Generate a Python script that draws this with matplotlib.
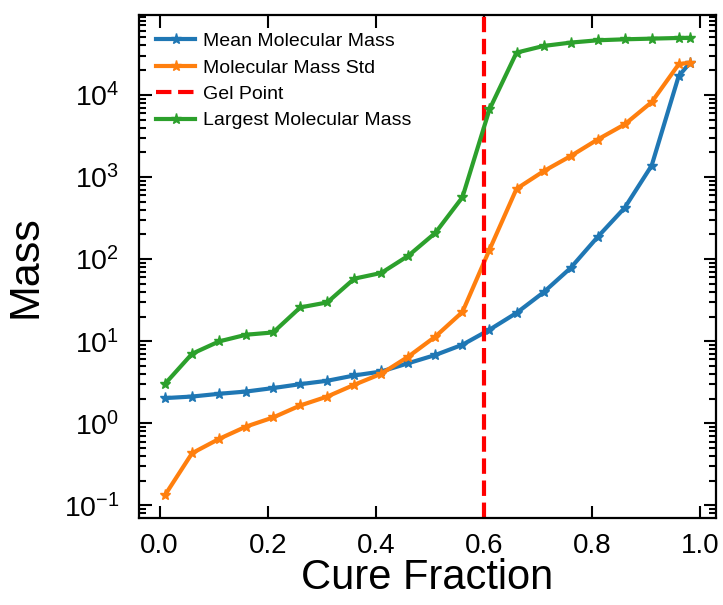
import matplotlib
matplotlib.use("Agg")
import matplotlib.pyplot as plt
from matplotlib.ticker import NullFormatter, FixedLocator

plt.rcParams['font.family'] = ['Liberation Sans', 'DejaVu Sans']
plt.rcParams['mathtext.fontset'] = 'custom'
plt.rcParams['mathtext.rm'] = 'Liberation Sans'
plt.rcParams['mathtext.it'] = 'Liberation Sans:italic'

cure_fraction = [0.01, 0.06, 0.11, 0.16, 0.21, 0.26, 0.31, 0.36, 0.41, 0.46, 0.51,
                 0.56, 0.61, 0.66, 0.71, 0.76, 0.81, 0.86, 0.91, 0.96, 0.98]
mean_mass = [2.03, 2.12, 2.29, 2.44, 2.69, 3.0, 3.3, 3.83, 4.28, 5.4, 6.8,
             9.06, 13.8, 22.1, 39.4, 78, 186, 421, 1380, 17000, 24200]
std_mass = [0.134, 0.433, 0.647, 0.914, 1.18, 1.65, 2.12, 2.95, 4.02, 6.5, 11.4,
            22.7, 130, 718, 1175, 1795, 2860, 4370, 8170, 23600, 24700]
largest_mass = [3.03, 7.04, 9.95, 12.0, 12.8, 25.8, 29.7, 57.8, 67.9, 110, 209,
                567, 6650, 32700, 39400, 43300, 46200, 47500, 48400, 49300, 49300]
gel_point = 0.6
decade_ticks = [1e-1, 1e0, 1e1, 1e2, 1e3, 1e4]

fig = plt.figure(figsize=(7.23, 6.05), dpi=100)
ax = fig.add_axes([0.192, 0.144, 0.798, 0.831])

ax.plot(cure_fraction, mean_mass, '-*', color='tab:blue', lw=3, ms=8,
        label='Mean Molecular Mass')
ax.plot(cure_fraction, std_mass, '-*', color='tab:orange', lw=3, ms=8,
        label='Molecular Mass Std')
ax.axvline(gel_point, color='red', ls='--', lw=3, label='Gel Point')
ax.plot(cure_fraction, largest_mass, '-*', color='tab:green', lw=3, ms=8,
        label='Largest Molecular Mass')

ax.set_yscale('log')
ylim = ax.get_ylim()
ax.yaxis.set_major_locator(FixedLocator(decade_ticks))
ax.yaxis.set_minor_formatter(NullFormatter())
ax.set_ylim(ylim)
ax.set_xticks([0.0, 0.2, 0.4, 0.6, 0.8, 1.0])
ax.set_xlabel('Cure Fraction', fontsize=30, labelpad=-1)
ax.set_ylabel('Mass', fontsize=31, labelpad=13)

for s in ax.spines.values():
    s.set_linewidth(1.6)
ax.tick_params(which='both', direction='in', top=True, right=True, width=1.5)
ax.tick_params(which='major', length=9, labelsize=20, pad=11)
ax.tick_params(axis='y', which='major', labelsize=20.5, pad=14)
ax.tick_params(which='minor', length=5)
ax.tick_params(axis='x', which='minor', bottom=False, top=False)

ax.legend(loc='upper left', frameon=False, fontsize=14, handlelength=2.0,
          handletextpad=0.4, labelspacing=0.45, borderaxespad=0.6,
          borderpad=0.3)

fig.savefig('out.png', dpi=100)
